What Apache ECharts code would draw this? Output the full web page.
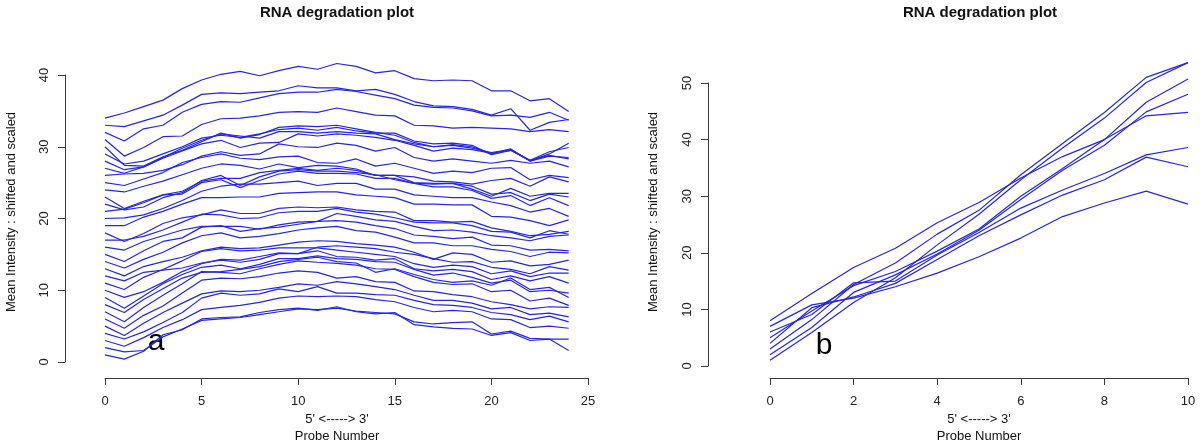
<!DOCTYPE html>
<html>
<head>
<meta charset="utf-8">
<script src="https://cdn.jsdelivr.net/npm/echarts@6/dist/echarts.min.js"></script>
<style>
html,body{margin:0;padding:0;background:#fff;}
#chart{width:1200px;height:444px;}
</style>
</head>
<body>
<div id="chart"></div>
<script>
// ---- Panel a: 34 arrays, probe positions 0..24 ----
const probesA = [0,1,2,3,4,5,6,7,8,9,10,11,12,13,14,15,16,17,18,19,20,21,22,23,24];
const a01 = [1.0,0.4,1.5,3.8,4.5,6.0,6.2,6.3,6.9,7.3,7.5,7.2,7.7,7.0,6.7,6.9,5.2,4.9,4.7,4.6,3.7,4.1,3.0,3.2,1.6];
const a02 = [2.0,1.4,1.6,3.5,4.6,5.8,6.0,6.2,6.6,7.0,7.4,7.3,7.5,7.1,6.9,6.7,5.6,5.3,5.5,5.6,3.9,4.3,3.3,3.2,3.2];
const a03 = [3.0,2.2,3.4,4.8,5.9,7.3,7.6,7.9,8.3,8.9,9.2,9.1,9.2,9.1,8.7,8.4,7.6,7.0,7.2,7.0,6.0,5.9,4.8,5.0,4.7];
const a04 = [4.0,3.2,4.2,5.5,6.9,8.9,9.6,9.3,9.5,10.2,9.8,10.5,9.6,9.6,9.4,9.3,8.6,8.0,7.9,7.6,6.9,6.6,5.9,6.4,5.6];
const a05 = [5.0,3.7,5.4,6.9,8.2,9.5,9.9,9.8,10.0,10.4,10.9,10.7,11.2,10.9,10.5,10.1,9.3,8.6,8.6,8.2,7.4,7.6,6.6,6.8,6.3];
const a06 = [6.0,4.7,6.5,7.8,9.6,11.4,11.7,11.6,11.9,12.4,12.7,12.5,11.7,11.9,11.2,11.1,9.9,9.8,9.4,9.1,8.4,8.0,7.4,7.7,7.6];
const a07 = [7.0,5.6,7.6,9.3,10.9,12.6,12.5,12.3,13.0,13.6,14.1,13.9,13.75,13.5,13.0,12.9,11.9,11.1,10.8,10.9,9.8,10.0,8.5,8.9,7.9];
const a08 = [8.0,6.9,8.7,10.2,11.7,12.5,12.6,12.9,13.3,14.0,14.3,14.6,14.0,13.8,12.5,13.0,12.2,11.5,11.1,11.3,10.7,11.7,10.1,10.4,9.0];
const a09 = [9.0,7.5,9.2,10.9,12.2,13.2,13.5,13.0,13.6,14.4,14.4,14.8,14.4,14.3,14.0,13.9,12.9,12.1,12.4,11.8,11.0,11.4,9.8,10.0,9.6];
const a10 = [10.0,9.0,9.8,11.1,12.6,13.7,14.3,14.2,14.7,15.2,15.1,15.5,14.7,14.6,14.2,14.4,13.0,12.7,12.9,12.6,11.5,12.0,11.3,11.9,11.0];
const a11 = [11.0,10.1,11.8,12.9,14.1,15.4,15.8,15.5,15.6,15.9,15.9,15.9,15.6,15.3,15.0,14.7,13.7,13.2,13.5,13.3,12.3,12.7,11.9,12.4,12.4];
const a12 = [12.0,11.3,12.5,12.8,13.1,13.8,14.2,13.9,14.3,15.1,15.1,16.0,16.2,16.0,15.8,15.3,15.0,14.4,13.9,14.0,13.2,12.9,12.3,13.3,12.8];
const a13 = [13.0,12.0,13.3,14.0,14.6,15.5,16.0,15.8,15.9,16.3,16.7,16.9,16.8,16.5,16.3,16.0,15.3,14.3,15.2,15.0,13.9,14.1,13.4,13.6,14.2];
const a14 = [14.0,13.1,14.3,15.3,16.6,17.6,18.0,17.3,17.5,17.9,18.4,18.7,18.9,18.3,18.1,17.4,16.6,16.6,16.2,16.2,15.7,15.4,14.7,15.3,15.2];
const a15 = [15.0,14.0,15.5,16.8,17.3,18.8,19.0,18.2,18.6,18.8,19.2,19.6,19.7,19.5,19.0,18.6,17.7,17.5,17.2,17.4,16.3,16.2,15.6,15.7,15.5];
const a16 = [16.0,15.6,16.8,17.6,18.4,18.9,18.9,18.9,18.5,19.1,19.5,19.6,20.7,20.3,19.8,19.6,18.9,18.3,18.4,18.1,17.6,17.3,16.9,17.5,17.7];
const a17 = [17.0,17.0,17.5,18.4,19.5,20.6,20.5,20.0,20.1,20.8,21.0,21.0,21.4,20.9,20.6,20.1,19.5,19.4,19.4,19.0,18.2,18.1,17.3,18.3,17.8];
const a18 = [18.0,16.8,17.9,19.3,20.1,20.5,21.2,20.7,20.7,21.4,21.6,21.5,21.6,21.2,21.0,20.9,19.7,19.7,19.5,19.6,18.7,18.2,17.6,17.8,18.2];
const a19 = [19.0,19.0,20.2,21.0,22.0,22.9,22.9,23.0,23.0,23.5,23.6,23.7,23.7,23.3,23.1,22.9,22.0,22.0,21.9,21.9,20.3,20.2,19.7,19.0,19.8];
const a20 = [20.0,20.1,20.5,21.4,22.5,23.8,24.5,24.8,24.8,25.0,25.2,24.6,24.9,24.9,24.1,24.1,23.3,23.1,22.9,22.9,22.3,21.8,20.9,21.4,20.3];
const a21 = [21.0,21.3,22.2,23.3,23.4,25.0,25.4,24.3,25.3,26.2,26.6,26.3,26.3,26.2,25.6,25.6,24.9,24.4,24.4,23.9,22.8,23.2,21.8,22.9,21.8];
const a22 = [22.0,21.2,21.6,22.9,23.6,25.3,26.0,24.6,25.8,26.6,26.8,26.6,26.6,26.4,26.1,25.4,24.9,24.8,24.9,24.5,23.4,23.6,22.5,23.4,23.0];
const a23 = [23.0,21.4,22.4,23.3,23.8,25.2,25.6,25.6,26.4,26.7,27.0,26.7,27.0,26.7,26.0,26.0,25.0,24.9,24.9,24.1,23.1,24.2,23.1,23.5,23.5];
const a24 = [24.0,23.7,24.5,25.2,26.1,27.0,27.6,27.4,26.9,27.6,27.1,27.4,27.3,26.9,26.0,26.0,25.8,25.2,25.1,24.8,25.3,25.6,24.5,25.8,25.1];
const a25 = [25.0,24.6,25.5,26.4,27.8,28.5,29.0,28.4,28.2,28.6,28.7,27.8,27.7,28.3,27.3,27.7,27.0,26.3,26.6,26.4,27.0,27.1,25.4,26.0,25.7];
const a26 = [26.0,26.2,26.3,26.7,27.5,28.7,29.3,28.8,29.0,30.4,30.0,29.9,30.5,30.2,29.4,29.9,28.5,28.0,28.3,28.0,27.7,28.1,27.7,28.0,27.2];
const a27 = [27.0,26.3,27.2,28.4,29.4,30.4,30.9,29.9,30.5,30.6,31.8,31.5,31.8,31.6,31.3,30.9,30.2,29.4,29.8,29.6,29.1,29.5,28.1,28.8,28.3];
const a28 = [28.0,26.8,27.2,28.5,29.8,30.9,31.8,31.5,31.2,32.1,32.1,31.9,32.1,31.9,31.8,31.0,30.4,30.0,30.2,29.8,29.2,29.6,28.0,28.7,28.5];
const a29 = [29.0,27.6,28.0,29.0,30.0,31.2,31.6,31.3,31.8,32.4,32.6,32.3,32.7,32.2,31.9,31.9,30.8,30.4,30.5,30.2,28.9,29.5,28.1,29.3,29.9];
const a30 = [30.0,27.4,27.3,28.6,29.5,30.7,31.9,31.2,31.7,32.7,32.9,32.8,33.0,32.5,32.0,31.6,30.6,30.0,30.3,30.0,29.0,29.7,28.0,29.0,30.5];
const a31 = [31.0,28.7,29.9,31.4,31.5,33.1,33.9,34.0,34.3,34.8,34.9,34.8,35.4,34.9,34.4,34.3,33.0,32.9,32.6,32.7,32.6,32.5,32.1,32.4,32.1];
const a32 = [32.0,30.8,32.5,33.0,34.8,35.9,36.3,36.2,36.8,37.4,37.6,37.6,38.0,37.7,37.2,36.7,35.8,35.5,35.4,35.0,34.3,34.4,34.1,34.8,33.7];
const a33 = [33.0,32.8,33.6,34.4,35.8,37.3,37.5,37.4,37.6,37.8,38.5,38.2,38.2,37.8,38.0,37.3,36.3,35.7,35.6,35.2,34.4,35.3,32.3,33.4,33.8];
const a34 = [34.0,34.7,35.6,36.5,38.1,39.3,40.1,40.5,39.9,40.6,41.2,40.8,41.6,41.2,40.3,40.6,39.5,39.2,39.3,39.2,37.8,37.8,36.4,36.7,34.9];
const panelA = [a01,a02,a03,a04,a05,a06,a07,a08,a09,a10,a11,a12,a13,a14,a15,a16,a17,a18,a19,a20,a21,a22,a23,a24,a25,a26,a27,a28,a29,a30,a31,a32,a33,a34];

// ---- Panel b: 8 arrays, probe positions 0..10 ----
const probesB = [0,1,2,3,4,5,6,7,8,9,10];
const b1 = [8, 12.8, 17.4, 20.8, 25.3, 28.9, 33.2, 37.0, 40.0, 44.2, 44.8];
const b2 = [7, 10.8, 12.0, 14.0, 16.4, 19.3, 22.6, 26.4, 28.8, 30.9, 28.6];
const b3 = [3, 8.2, 14.4, 18.2, 23.3, 27.5, 33.8, 39.3, 44.8, 51.0, 53.6];
const b4 = [1, 5.9, 11.2, 15.6, 21.4, 26.8, 32.9, 38.5, 43.8, 50.1, 53.6];
const b5 = [5, 9.7, 14.2, 16.7, 20.3, 24.2, 30.0, 34.9, 40.0, 46.6, 50.7];
const b6 = [2, 6.8, 13.0, 16.1, 19.8, 24.0, 29.4, 34.6, 39.0, 44.9, 48.0];
const b7 = [6, 9.1, 14.7, 15.0, 19.6, 23.6, 27.9, 31.1, 34.0, 37.3, 38.6];
const b8 = [4, 10.3, 12.2, 14.6, 18.8, 23.0, 26.7, 30.2, 32.9, 36.9, 35.2];
const panelB = [b1,b2,b3,b4,b5,b6,b7,b8];

// ---- texts ----
const titleText = 'RNA degradation plot';
const xLab1 = "5' <-----> 3'";
const xLab2 = 'Probe Number';
const yLab = 'Mean Intensity : shifted and scaled';
const panelLetters = ['a', 'b'];

const FONT = '"Liberation Sans", Arial, Helvetica, sans-serif';
const LINE_COLOR = '#2525e8';
const AXIS_COLOR = '#3a3a3a';

function axisCommon() {
  return {
    type: 'value',
    splitLine: { show: false },
    axisLine: { show: true, onZero: false, lineStyle: { color: AXIS_COLOR, width: 1 } },
    axisTick: { show: true, length: 7, lineStyle: { color: AXIS_COLOR, width: 1 } },
    axisLabel: { color: '#222', fontSize: 13, fontFamily: FONT, showMinLabel: true, showMaxLabel: true }
  };
}

const chart = echarts.init(document.getElementById('chart'), null, { renderer: 'canvas' });

const xAxes = [
  Object.assign(axisCommon(), { gridIndex: 0, min: 0, max: 25, interval: 5, offset: 16 }),
  Object.assign(axisCommon(), { gridIndex: 1, min: 0, max: 10, interval: 2, offset: 12 })
];
xAxes.forEach(a => { a.axisLabel.margin = 17; });

const yAxes = [
  Object.assign(axisCommon(), { gridIndex: 0, min: 0, max: 40, interval: 10, offset: 40 }),
  Object.assign(axisCommon(), { gridIndex: 1, min: 0, max: 50, interval: 10, offset: 62 })
];
yAxes.forEach(a => { a.axisLabel.rotate = 90; a.axisLabel.margin = 14; });

const series = [];
panelA.forEach((arr, i) => {
  series.push({
    type: 'line', xAxisIndex: 0, yAxisIndex: 0, clip: false,
    symbol: 'none', silent: true,
    lineStyle: { color: LINE_COLOR, width: 1.2 },
    data: arr.map((v, j) => [probesA[j], v])
  });
});
panelB.forEach((arr, i) => {
  series.push({
    type: 'line', xAxisIndex: 1, yAxisIndex: 1, clip: false,
    symbol: 'none', silent: true,
    lineStyle: { color: LINE_COLOR, width: 1.2 },
    data: arr.map((v, j) => [probesB[j], v])
  });
});

function txt(x, y, s, opts) {
  return {
    type: 'text', x: x, y: y, rotation: (opts && opts.rotation) || 0,
    style: Object.assign({
      text: s, fill: '#111', font: '13px ' + FONT,
      textAlign: 'center', textVerticalAlign: 'middle'
    }, (opts && opts.style) || {})
  };
}

const graphics = [
  txt(337, 13, titleText, { style: { font: 'bold 15px ' + FONT } }),
  txt(980, 13, titleText, { style: { font: 'bold 15px ' + FONT } }),
  txt(337, 419, xLab1),
  txt(337, 436, xLab2),
  txt(979, 419, xLab1),
  txt(979, 436, xLab2),
  txt(11, 212, yLab, { rotation: Math.PI / 2 }),
  txt(653, 212, yLab, { rotation: Math.PI / 2 }),
  txt(156, 342, panelLetters[0], { style: { font: '30px ' + FONT, fill: '#000' } }),
  txt(824, 346, panelLetters[1], { style: { font: '30px ' + FONT, fill: '#000' } })
];

chart.setOption({
  animation: false,
  backgroundColor: '#ffffff',
  textStyle: { fontFamily: FONT },
  grid: [
    { left: 105, right: 612, top: 75, bottom: 82, containLabel: false },
    { left: 770, right: 12, top: 83, bottom: 78, containLabel: false }
  ],
  xAxis: xAxes,
  yAxis: yAxes,
  series: series,
  graphic: graphics
});
</script>
</body>
</html>
